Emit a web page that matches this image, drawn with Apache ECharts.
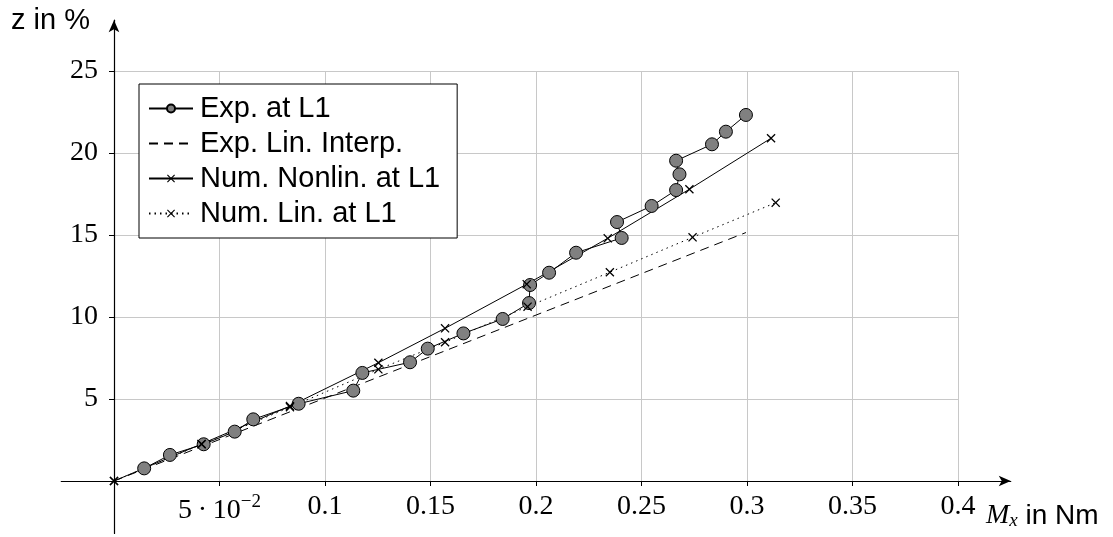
<!DOCTYPE html>
<html>
<head>
<meta charset="utf-8">
<script src="https://cdn.jsdelivr.net/npm/echarts@6/dist/echarts.min.js"></script>
<style>
  html, body { margin: 0; padding: 0; background: #fff; }
  #main { width: 1113px; height: 537px; }
</style>
</head>
<body>
<div id="main"></div>
<script>
// Exp. at L1 (measured points)
const expX = [0.0143, 0.0265, 0.0425, 0.0572, 0.066, 0.0875, 0.1134, 0.1177, 0.1403, 0.1487, 0.1656, 0.1842, 0.1967, 0.1972, 0.2062, 0.219, 0.2406, 0.2384, 0.2548, 0.2664, 0.268, 0.2664, 0.2834, 0.29, 0.2995];
const expY = [0.77, 1.59, 2.24, 3.01, 3.76, 4.71, 5.51, 6.59, 7.24, 8.07, 9.0, 9.88, 10.85, 11.95, 12.7, 13.92, 14.82, 15.79, 16.77, 17.74, 18.7, 19.53, 20.53, 21.3, 22.32];
// Exp. Lin. Interp.
const interpX = [0, 0.2995];
const interpY = [0, 15.15];
// Num. Nonlin. at L1
const nonlinX = [0, 0.0415, 0.0834, 0.1253, 0.1569, 0.1956, 0.234, 0.2727, 0.3114];
const nonlinY = [0, 2.26, 4.57, 7.21, 9.31, 12.0, 14.8, 17.79, 20.9];
// Num. Lin. at L1
const linX = [0, 0.0415, 0.0834, 0.1253, 0.1569, 0.196, 0.235, 0.2742, 0.3136];
const linY = [0, 2.24, 4.5, 6.81, 8.46, 10.63, 12.73, 14.86, 16.97];

const names = ["Exp. at L1", "Exp. Lin. Interp.", "Num. Nonlin. at L1", "Num. Lin. at L1"];

function pairs(xs, ys) {
  return xs.map((x, i) => [x, ys[i]]);
}

const cross = "path://M0,1L1,0L5,4L9,0L10,1L6,5L10,9L9,10L5,6L1,10L0,9L4,5Z";
const serif = "Liberation Serif";
const sans = "Liberation Sans";

// inner grid: x 0..0.4, y 0..25 ; outer grid only carries the arrow axes
const pxX = 844 / 0.4;
const pxY = 410 / 25;

let myChart = echarts.init(document.getElementById("main"));
myChart.setOption({
  animation: false,
  backgroundColor: "#fff",
  grid: [
    { left: 114, top: 71, width: 844, height: 410 },
    { left: 114 - 0.025 * pxX, top: 71 - 3.1 * pxY, width: 0.45 * pxX, height: 31.3 * pxY }
  ],
  legend: {
    data: names,
    orient: "vertical",
    left: 139,
    top: 84,
    padding: [10, 17, 10, 9],
    itemGap: 6,
    itemWidth: 44,
    itemHeight: 10,
    backgroundColor: "#fff",
    borderColor: "#000",
    borderWidth: 1,
    borderRadius: 0,
    textStyle: { fontFamily: sans, fontSize: 29, color: "#000", padding: [0, 0, 0, 2] }
  },
  xAxis: [
    {
      type: "value",
      gridIndex: 0,
      min: 0,
      max: 0.4,
      interval: 0.05,
      axisLine: { show: false },
      axisTick: { show: true, length: 5, lineStyle: { color: "#000" } },
      splitLine: { show: true, lineStyle: { color: "#c8c8c8", width: 1 } },
      axisLabel: {
        margin: 12,
        color: "#000",
        fontFamily: serif,
        fontSize: 28,
        formatter: function (v) {
          if (v === 0) return "";
          if (Math.abs(v - 0.05) < 1e-9) return "{b|5\u2009·\u200910}{s|\u22122}";
          return "{b|" + String(+v.toFixed(2)) + "}";
        },
        rich: {
          b: { fontFamily: serif, fontSize: 28, color: "#000", verticalAlign: "bottom" },
          s: { fontFamily: serif, fontSize: 19, color: "#000", verticalAlign: "bottom", padding: [0, 0, 13, 0] }
        }
      }
    },
    {
      type: "value",
      gridIndex: 1,
      min: -0.025,
      max: 0.425,
      axisLine: { show: true, onZero: true, symbol: ["none", "arrow"], symbolSize: [8, 12], lineStyle: { color: "#000", width: 1.2 } },
      axisTick: { show: false },
      axisLabel: { show: false },
      splitLine: { show: false }
    }
  ],
  yAxis: [
    {
      type: "value",
      gridIndex: 0,
      min: 0,
      max: 25,
      interval: 5,
      axisLine: { show: false },
      axisTick: { show: true, length: 5, lineStyle: { color: "#000" } },
      splitLine: { show: true, lineStyle: { color: "#c8c8c8", width: 1 } },
      axisLabel: {
        margin: 16,
        color: "#000",
        fontFamily: serif,
        fontSize: 28,
        formatter: function (v) { return v === 0 ? "" : String(v); }
      }
    },
    {
      type: "value",
      gridIndex: 1,
      min: -3.2,
      max: 28.1,
      axisLine: { show: true, onZero: true, symbol: ["none", "arrow"], symbolSize: [8, 12], lineStyle: { color: "#000", width: 1.2 } },
      axisTick: { show: false },
      axisLabel: { show: false },
      splitLine: { show: false }
    }
  ],
  graphic: [
    {
      type: "text",
      left: 11,
      top: 6,
      style: { text: "z in %", fontFamily: sans, fontSize: 29, fill: "#000" }
    },
    {
      type: "text",
      left: 986,
      top: 502,
      style: {
        text: "{m|M}{x|x}{t| in Nm}",
        rich: {
          m: { fontFamily: serif, fontStyle: "italic", fontSize: 28, fill: "#000", verticalAlign: "bottom" },
          x: { fontFamily: serif, fontStyle: "italic", fontSize: 19, fill: "#000", verticalAlign: "bottom" },
          t: { fontFamily: sans, fontSize: 28, fill: "#000", verticalAlign: "bottom" }
        }
      }
    }
  ],
  series: [
    {
      name: names[0],
      type: "line",
      xAxisIndex: 0,
      yAxisIndex: 0,
      data: pairs(expX, expY),
      symbol: "circle",
      symbolSize: 13,
      lineStyle: { color: "#000", width: 1 },
      itemStyle: { color: "#808080", borderColor: "#000", borderWidth: 1 }
    },
    {
      name: names[1],
      type: "line",
      xAxisIndex: 0,
      yAxisIndex: 0,
      data: pairs(interpX, interpY),
      symbol: "circle",
      showSymbol: false,
      lineStyle: { color: "#000", width: 1, type: [9, 6] },
      itemStyle: { color: "#000", opacity: 0 }
    },
    {
      name: names[2],
      type: "line",
      xAxisIndex: 0,
      yAxisIndex: 0,
      data: pairs(nonlinX, nonlinY),
      symbol: cross,
      symbolSize: 9,
      lineStyle: { color: "#000", width: 1 },
      itemStyle: { color: "#000" }
    },
    {
      name: names[3],
      type: "line",
      xAxisIndex: 0,
      yAxisIndex: 0,
      data: pairs(linX, linY),
      symbol: cross,
      symbolSize: 9,
      lineStyle: { color: "#000", width: 1, type: [1.5, 4] },
      itemStyle: { color: "#000" }
    }
  ]
});
window.addEventListener("resize", () => {
  myChart.resize();
});
</script>
</body>
</html>
